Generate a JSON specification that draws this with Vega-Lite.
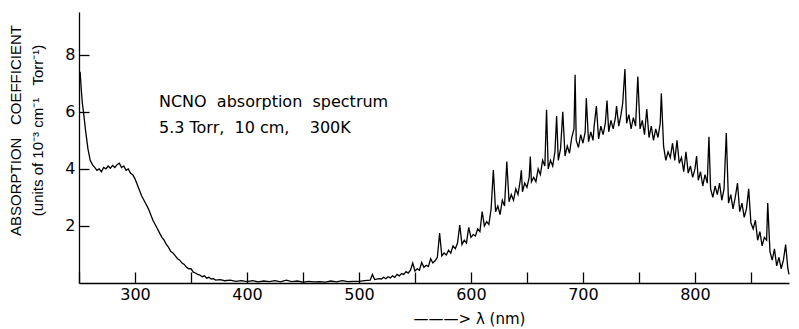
{
  "$schema": "https://vega.github.io/schema/vega-lite/v6.json",
  "width": 710,
  "height": 271,
  "autosize": {"type": "none"},
  "padding": {"left": 79, "top": 12, "right": 10, "bottom": 46},
  "background": "white",
  "config": {"view": {"stroke": null}, "font": "DejaVu Sans"},
  "datasets": {
    "spectrum": [
      {"wavelength": 251, "coef": 7.4}, {"wavelength": 252, "coef": 6.8}, {"wavelength": 253, "coef": 6.3}, {"wavelength": 254, "coef": 6.0},
      {"wavelength": 256, "coef": 5.3}, {"wavelength": 258, "coef": 4.7}, {"wavelength": 260, "coef": 4.3}, {"wavelength": 262, "coef": 4.15},
      {"wavelength": 264, "coef": 4.05}, {"wavelength": 266, "coef": 3.95}, {"wavelength": 268, "coef": 4.0}, {"wavelength": 270, "coef": 3.9},
      {"wavelength": 272, "coef": 4.05}, {"wavelength": 274, "coef": 4.0}, {"wavelength": 276, "coef": 4.1}, {"wavelength": 278, "coef": 4.02},
      {"wavelength": 280, "coef": 4.12}, {"wavelength": 282, "coef": 4.05}, {"wavelength": 284, "coef": 4.15}, {"wavelength": 286, "coef": 4.2},
      {"wavelength": 288, "coef": 4.05}, {"wavelength": 290, "coef": 4.1}, {"wavelength": 292, "coef": 3.95}, {"wavelength": 294, "coef": 4.0},
      {"wavelength": 296, "coef": 3.85}, {"wavelength": 298, "coef": 3.8}, {"wavelength": 300, "coef": 3.65}, {"wavelength": 302, "coef": 3.45},
      {"wavelength": 304, "coef": 3.25}, {"wavelength": 306, "coef": 3.05}, {"wavelength": 308, "coef": 2.9}, {"wavelength": 310, "coef": 2.75},
      {"wavelength": 312, "coef": 2.6}, {"wavelength": 314, "coef": 2.4}, {"wavelength": 316, "coef": 2.2}, {"wavelength": 318, "coef": 2.05},
      {"wavelength": 320, "coef": 1.9}, {"wavelength": 322, "coef": 1.75}, {"wavelength": 324, "coef": 1.6}, {"wavelength": 326, "coef": 1.5},
      {"wavelength": 328, "coef": 1.35}, {"wavelength": 330, "coef": 1.25}, {"wavelength": 332, "coef": 1.1}, {"wavelength": 334, "coef": 1.05},
      {"wavelength": 336, "coef": 0.95}, {"wavelength": 338, "coef": 0.85}, {"wavelength": 340, "coef": 0.8}, {"wavelength": 342, "coef": 0.7},
      {"wavelength": 344, "coef": 0.65}, {"wavelength": 346, "coef": 0.55}, {"wavelength": 348, "coef": 0.5}, {"wavelength": 350, "coef": 0.5},
      {"wavelength": 352, "coef": 0.38}, {"wavelength": 354, "coef": 0.35}, {"wavelength": 356, "coef": 0.3}, {"wavelength": 358, "coef": 0.28},
      {"wavelength": 360, "coef": 0.22}, {"wavelength": 362, "coef": 0.25}, {"wavelength": 364, "coef": 0.17}, {"wavelength": 366, "coef": 0.2},
      {"wavelength": 368, "coef": 0.14}, {"wavelength": 370, "coef": 0.15}, {"wavelength": 372, "coef": 0.1}, {"wavelength": 376, "coef": 0.12},
      {"wavelength": 380, "coef": 0.08}, {"wavelength": 385, "coef": 0.1}, {"wavelength": 390, "coef": 0.06}, {"wavelength": 395, "coef": 0.08},
      {"wavelength": 400, "coef": 0.05}, {"wavelength": 405, "coef": 0.08}, {"wavelength": 410, "coef": 0.04}, {"wavelength": 415, "coef": 0.07},
      {"wavelength": 420, "coef": 0.05}, {"wavelength": 425, "coef": 0.08}, {"wavelength": 430, "coef": 0.04}, {"wavelength": 435, "coef": 0.1},
      {"wavelength": 440, "coef": 0.05}, {"wavelength": 445, "coef": 0.07}, {"wavelength": 450, "coef": 0.03}, {"wavelength": 455, "coef": 0.06},
      {"wavelength": 460, "coef": 0.04}, {"wavelength": 465, "coef": 0.05}, {"wavelength": 470, "coef": 0.03}, {"wavelength": 475, "coef": 0.07},
      {"wavelength": 480, "coef": 0.04}, {"wavelength": 485, "coef": 0.08}, {"wavelength": 490, "coef": 0.05}, {"wavelength": 495, "coef": 0.06},
      {"wavelength": 500, "coef": 0.06}, {"wavelength": 505, "coef": 0.08}, {"wavelength": 510, "coef": 0.1}, {"wavelength": 512, "coef": 0.3},
      {"wavelength": 514, "coef": 0.12}, {"wavelength": 518, "coef": 0.15}, {"wavelength": 520, "coef": 0.14}, {"wavelength": 522, "coef": 0.2},
      {"wavelength": 524, "coef": 0.15}, {"wavelength": 526, "coef": 0.22}, {"wavelength": 528, "coef": 0.18}, {"wavelength": 530, "coef": 0.25},
      {"wavelength": 532, "coef": 0.2}, {"wavelength": 534, "coef": 0.3}, {"wavelength": 536, "coef": 0.25}, {"wavelength": 538, "coef": 0.33},
      {"wavelength": 540, "coef": 0.3}, {"wavelength": 542, "coef": 0.4}, {"wavelength": 544, "coef": 0.35}, {"wavelength": 546, "coef": 0.45},
      {"wavelength": 548, "coef": 0.7}, {"wavelength": 550, "coef": 0.42}, {"wavelength": 552, "coef": 0.5}, {"wavelength": 554, "coef": 0.45},
      {"wavelength": 556, "coef": 0.72}, {"wavelength": 558, "coef": 0.55}, {"wavelength": 560, "coef": 0.62}, {"wavelength": 562, "coef": 0.58},
      {"wavelength": 564, "coef": 0.85}, {"wavelength": 566, "coef": 0.7}, {"wavelength": 568, "coef": 0.78}, {"wavelength": 570, "coef": 0.9},
      {"wavelength": 572, "coef": 1.75}, {"wavelength": 574, "coef": 0.95}, {"wavelength": 576, "coef": 1.05}, {"wavelength": 578, "coef": 0.98},
      {"wavelength": 580, "coef": 1.15}, {"wavelength": 582, "coef": 1.05}, {"wavelength": 584, "coef": 1.3}, {"wavelength": 586, "coef": 1.2},
      {"wavelength": 588, "coef": 1.4}, {"wavelength": 590, "coef": 2.03}, {"wavelength": 592, "coef": 1.35}, {"wavelength": 594, "coef": 1.5},
      {"wavelength": 596, "coef": 1.4}, {"wavelength": 598, "coef": 1.95}, {"wavelength": 600, "coef": 1.6}, {"wavelength": 602, "coef": 1.7},
      {"wavelength": 604, "coef": 1.65}, {"wavelength": 606, "coef": 1.9}, {"wavelength": 608, "coef": 1.8}, {"wavelength": 610, "coef": 2.5},
      {"wavelength": 612, "coef": 2.0}, {"wavelength": 614, "coef": 2.15}, {"wavelength": 616, "coef": 2.05}, {"wavelength": 618, "coef": 2.6},
      {"wavelength": 620, "coef": 3.96}, {"wavelength": 622, "coef": 2.5}, {"wavelength": 624, "coef": 2.7}, {"wavelength": 626, "coef": 2.4},
      {"wavelength": 628, "coef": 2.9}, {"wavelength": 630, "coef": 2.7}, {"wavelength": 632, "coef": 4.26}, {"wavelength": 634, "coef": 2.85},
      {"wavelength": 636, "coef": 3.1}, {"wavelength": 638, "coef": 2.9}, {"wavelength": 640, "coef": 3.3}, {"wavelength": 642, "coef": 3.1},
      {"wavelength": 644, "coef": 3.6}, {"wavelength": 645, "coef": 3.95}, {"wavelength": 646, "coef": 3.2}, {"wavelength": 648, "coef": 3.5},
      {"wavelength": 650, "coef": 3.35}, {"wavelength": 652, "coef": 3.7}, {"wavelength": 653, "coef": 4.43}, {"wavelength": 654, "coef": 3.55},
      {"wavelength": 656, "coef": 3.7}, {"wavelength": 658, "coef": 3.55}, {"wavelength": 660, "coef": 4.0}, {"wavelength": 662, "coef": 3.8},
      {"wavelength": 664, "coef": 4.3}, {"wavelength": 666, "coef": 4.1}, {"wavelength": 667.5, "coef": 6.07}, {"wavelength": 669, "coef": 4.0},
      {"wavelength": 671, "coef": 4.3}, {"wavelength": 673, "coef": 4.1}, {"wavelength": 675, "coef": 4.6}, {"wavelength": 676.5, "coef": 5.85},
      {"wavelength": 678, "coef": 4.3}, {"wavelength": 680, "coef": 4.7}, {"wavelength": 682, "coef": 6.0}, {"wavelength": 684, "coef": 4.45},
      {"wavelength": 686, "coef": 4.8}, {"wavelength": 688, "coef": 4.55}, {"wavelength": 690, "coef": 5.1}, {"wavelength": 692, "coef": 5.4},
      {"wavelength": 693, "coef": 7.3}, {"wavelength": 694, "coef": 5.0}, {"wavelength": 696, "coef": 4.75}, {"wavelength": 698, "coef": 5.2},
      {"wavelength": 700, "coef": 4.9}, {"wavelength": 702, "coef": 5.3}, {"wavelength": 703, "coef": 6.48}, {"wavelength": 705, "coef": 4.95},
      {"wavelength": 707, "coef": 5.3}, {"wavelength": 709, "coef": 5.0}, {"wavelength": 710, "coef": 5.5}, {"wavelength": 712, "coef": 6.2},
      {"wavelength": 714, "coef": 5.05}, {"wavelength": 716, "coef": 5.5}, {"wavelength": 718, "coef": 5.2}, {"wavelength": 720, "coef": 5.6},
      {"wavelength": 721.5, "coef": 6.4}, {"wavelength": 723, "coef": 5.3}, {"wavelength": 725, "coef": 5.7}, {"wavelength": 727, "coef": 5.4},
      {"wavelength": 729, "coef": 5.8}, {"wavelength": 730, "coef": 6.2}, {"wavelength": 732, "coef": 5.5}, {"wavelength": 734, "coef": 5.9},
      {"wavelength": 735.5, "coef": 6.3}, {"wavelength": 737.5, "coef": 7.5}, {"wavelength": 739, "coef": 5.6}, {"wavelength": 741, "coef": 5.9},
      {"wavelength": 743, "coef": 5.4}, {"wavelength": 745, "coef": 5.8}, {"wavelength": 747, "coef": 5.5}, {"wavelength": 749, "coef": 7.24},
      {"wavelength": 751, "coef": 5.4}, {"wavelength": 753, "coef": 5.7}, {"wavelength": 755, "coef": 5.2}, {"wavelength": 757, "coef": 6.1},
      {"wavelength": 759, "coef": 5.1}, {"wavelength": 761, "coef": 5.5}, {"wavelength": 763, "coef": 5.0}, {"wavelength": 765, "coef": 5.4},
      {"wavelength": 767, "coef": 5.1}, {"wavelength": 769, "coef": 5.6}, {"wavelength": 770, "coef": 6.65}, {"wavelength": 772, "coef": 4.8},
      {"wavelength": 774, "coef": 4.3}, {"wavelength": 776, "coef": 4.6}, {"wavelength": 778, "coef": 4.4}, {"wavelength": 780, "coef": 4.9},
      {"wavelength": 782, "coef": 4.3}, {"wavelength": 784, "coef": 5.0}, {"wavelength": 786, "coef": 4.2}, {"wavelength": 788, "coef": 4.4},
      {"wavelength": 790, "coef": 3.9}, {"wavelength": 792, "coef": 4.6}, {"wavelength": 794, "coef": 3.85}, {"wavelength": 796, "coef": 4.1},
      {"wavelength": 798, "coef": 3.7}, {"wavelength": 800, "coef": 4.0}, {"wavelength": 801.5, "coef": 4.45}, {"wavelength": 803, "coef": 3.6},
      {"wavelength": 805, "coef": 3.9}, {"wavelength": 807, "coef": 3.4}, {"wavelength": 809, "coef": 3.8}, {"wavelength": 811, "coef": 3.5},
      {"wavelength": 812.5, "coef": 5.13}, {"wavelength": 814, "coef": 3.3}, {"wavelength": 816, "coef": 3.0}, {"wavelength": 818, "coef": 3.4},
      {"wavelength": 820, "coef": 3.1}, {"wavelength": 822, "coef": 3.5}, {"wavelength": 824, "coef": 2.9}, {"wavelength": 826, "coef": 3.3},
      {"wavelength": 828, "coef": 5.26}, {"wavelength": 830, "coef": 2.8}, {"wavelength": 832, "coef": 3.1}, {"wavelength": 834, "coef": 2.6},
      {"wavelength": 836, "coef": 3.0}, {"wavelength": 838, "coef": 3.5}, {"wavelength": 840, "coef": 2.5}, {"wavelength": 842, "coef": 2.8},
      {"wavelength": 844, "coef": 2.3}, {"wavelength": 846, "coef": 2.6}, {"wavelength": 848, "coef": 3.3}, {"wavelength": 850, "coef": 2.1},
      {"wavelength": 852, "coef": 1.9}, {"wavelength": 854, "coef": 2.2}, {"wavelength": 856, "coef": 1.5}, {"wavelength": 858, "coef": 1.8},
      {"wavelength": 860, "coef": 1.3}, {"wavelength": 862, "coef": 1.6}, {"wavelength": 864, "coef": 1.5}, {"wavelength": 865, "coef": 2.8},
      {"wavelength": 867, "coef": 1.1}, {"wavelength": 869, "coef": 0.8}, {"wavelength": 871, "coef": 1.2}, {"wavelength": 873, "coef": 0.6},
      {"wavelength": 875, "coef": 0.9}, {"wavelength": 877, "coef": 0.5}, {"wavelength": 879, "coef": 0.8}, {"wavelength": 881, "coef": 1.35},
      {"wavelength": 883, "coef": 0.5}, {"wavelength": 884, "coef": 0.3}
    ],
    "notes": [
      {"wavelength": 321.4, "coef": 6.33, "label": "NCNO \u00a0absorption \u00a0spectrum"},
      {"wavelength": 321.4, "coef": 5.45, "label": "5.3 Torr, \u00a010 cm, \u00a0\u00a0 300K"}
    ]
  },
  "encoding": {
    "x": {
      "field": "wavelength", "type": "quantitative",
      "scale": {"domain": [250, 884], "nice": false, "zero": false},
      "axis": {
        "values": [250, 300, 350, 400, 450, 500, 550, 600, 650, 700, 750, 800, 850],
        "labelExpr": "datum.value % 100 === 0 ? datum.label : ''",
        "tickSize": -11, "tickWidth": 1.3, "tickColor": "black",
        "domainColor": "black", "domainWidth": 1.3,
        "labelColor": "black", "labelFontSize": 16, "labelPadding": 14, "labelFlush": false,
        "grid": false,
        "title": "———> λ (nm)", "titleFontSize": 15, "titleFontWeight": "normal", "titleColor": "black",
        "titleX": 390, "titleY": 35, "titleAlign": "center", "titleBaseline": "middle"
      }
    },
    "y": {
      "field": "coef", "type": "quantitative",
      "scale": {"domain": [0, 9.5], "nice": false, "zero": true},
      "axis": {
        "values": [2, 4, 6, 8],
        "tickSize": -10, "tickWidth": 1.3, "tickColor": "black",
        "domainColor": "black", "domainWidth": 1.3,
        "labelColor": "black", "labelFontSize": 16, "labelPadding": 14,
        "grid": false,
        "title": ["ABSORPTION \u00a0 COEFFICIENT", "(units of 10⁻³ cm⁻¹ \u00a0 Torr⁻¹)"],
        "titleFont": "Liberation Sans",
        "titleFontSize": 15, "titleFontWeight": "normal", "titleColor": "black",
        "titleAngle": -90, "titleX": -71, "titleY": 118, "titleAlign": "center",
        "titleBaseline": "top", "titleLineHeight": 22
      }
    }
  },
  "layer": [
    {
      "data": {"name": "spectrum"},
      "mark": {"type": "line", "color": "black", "strokeWidth": 1.3, "interpolate": "linear"}
    },
    {
      "data": {"name": "notes"},
      "mark": {"type": "text", "align": "left", "baseline": "middle", "fontSize": 16, "color": "black"},
      "encoding": {"text": {"field": "label", "type": "nominal"}}
    }
  ]
}
